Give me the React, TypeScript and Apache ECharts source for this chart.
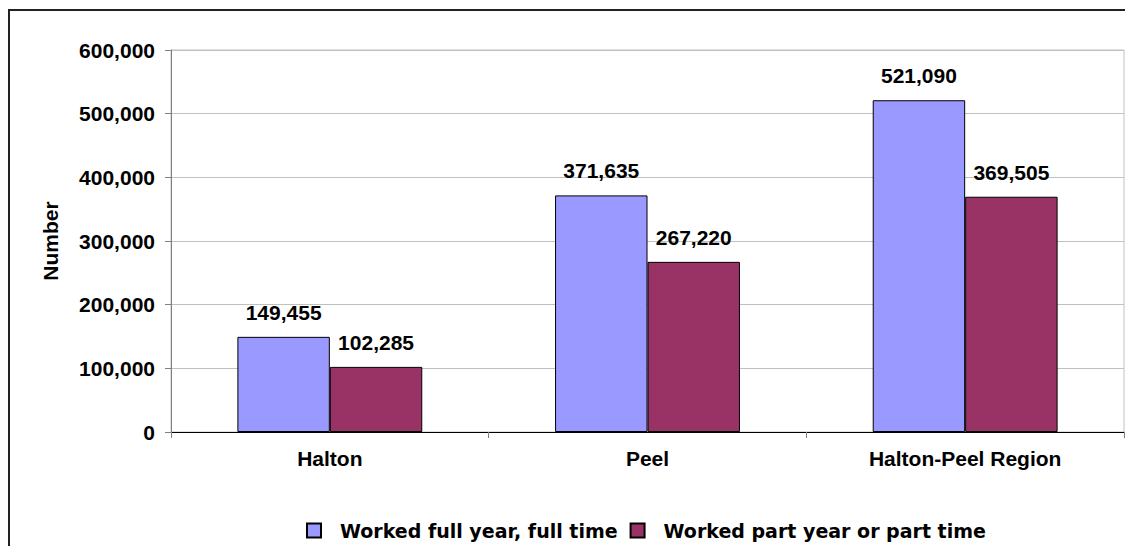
import React, { useEffect, useRef } from "react";
import * as echarts from "echarts";

const categories = ["Halton", "Peel", "Halton-Peel Region"];
const fullYearFullTime = [149455, 371635, 521090];
const partYearPartTime = [102285, 267220, 369505];
const seriesNames = ["Worked full year, full time", "Worked part year or part time"];
const yAxisName = "Number";
const yMin = 0;
const yMax = 600000;
const yInterval = 100000;

const fmt = (v: number) => v.toLocaleString("en-US");

export default function App() {
  const ref = useRef<HTMLDivElement>(null);
  useEffect(() => {
    if (!ref.current) return;
    const chart = echarts.init(ref.current, undefined, { renderer: "svg" });
    const font = "'Liberation Sans', Arial, sans-serif";
    const labelStyle = {
      show: true,
      position: "top" as const,
      distance: 14,
      fontFamily: font,
      fontSize: 21,
      fontWeight: "bold" as const,
      color: "#000",
      formatter: (p: any) => fmt(p.value),
    };
    chart.setOption({
      animation: false,
      grid: {
        left: 163,
        top: 42,
        width: 953,
        height: 382,
        show: true,
        borderColor: "#c0c0c0",
        borderWidth: 1,
        backgroundColor: "transparent",
      },
      legend: {
        left: 293,
        top: 508,
        itemWidth: 14,
        itemHeight: 14,
        itemGap: 12,
        icon: "rect",
        data: seriesNames,
        textStyle: {
          fontFamily: "'DejaVu Sans', sans-serif",
          fontSize: 19,
          fontWeight: "bold",
          color: "#000",
          padding: [0, 0, 0, 14],
        },
      },
      xAxis: {
        type: "category",
        data: categories,
        axisLine: { show: true, lineStyle: { color: "#000", width: 1 } },
        axisTick: { show: true, length: 6, lineStyle: { color: "#808080" } },
        axisLabel: {
          margin: 16,
          fontFamily: font,
          fontSize: 21,
          fontWeight: "bold",
          color: "#000",
        },
      },
      yAxis: {
        type: "value",
        min: yMin,
        max: yMax,
        interval: yInterval,
        name: yAxisName,
        nameLocation: "middle",
        nameGap: 110,
        nameRotate: 90,
        nameTextStyle: {
          fontFamily: font,
          fontSize: 21,
          fontWeight: "bold",
          color: "#000",
        },
        axisLine: { show: true, lineStyle: { color: "#808080", width: 1 } },
        axisTick: { show: true, length: 6, lineStyle: { color: "#808080" } },
        splitLine: { show: true, lineStyle: { color: "#c0c0c0", width: 1 } },
        axisLabel: {
          margin: 16,
          fontFamily: font,
          fontSize: 21,
          fontWeight: "bold",
          color: "#000",
          formatter: (v: number) => fmt(v),
        },
      },
      series: [
        {
          name: seriesNames[0],
          type: "bar",
          data: fullYearFullTime,
          barGap: "0%",
          barCategoryGap: "41.8%",
          itemStyle: { color: "#9999FF", borderColor: "#000", borderWidth: 1 },
          label: labelStyle,
        },
        {
          name: seriesNames[1],
          type: "bar",
          data: partYearPartTime,
          barGap: "0%",
          barCategoryGap: "41.8%",
          itemStyle: { color: "#993366", borderColor: "#000", borderWidth: 1 },
          label: labelStyle,
        },
      ],
    });
    return () => chart.dispose();
  }, []);
  return (
    <div style={{ position: "relative", width: 1125, height: 538 }}>
      <div ref={ref} style={{ position: "absolute", left: 0, top: 0, width: 1125, height: 538 }} />
      <div
        style={{
          position: "absolute",
          left: 0,
          top: 1,
          width: 1125,
          height: 537,
          borderLeft: "2px solid #222",
          borderTop: "2px solid #222",
          boxSizing: "border-box",
          pointerEvents: "none",
        }}
      />
    </div>
  );
}
